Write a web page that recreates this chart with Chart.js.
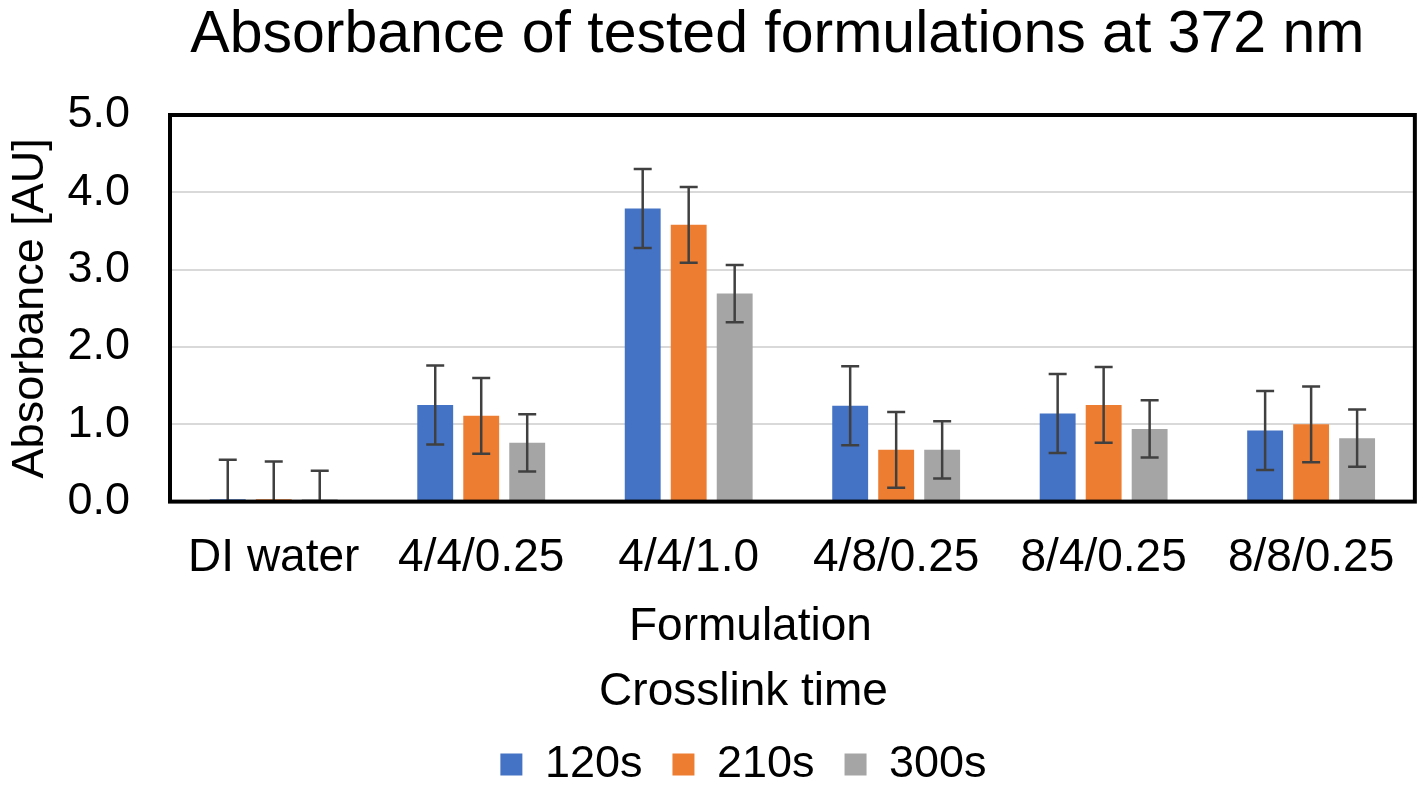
<!DOCTYPE html>
<html>
<head>
<meta charset="utf-8">
<script src="https://cdn.jsdelivr.net/npm/chart.js@4"></script>
<style>
  html, body { margin: 0; padding: 0; background: #fff; }
  #wrap { width: 1424px; height: 793px; position: relative; }
</style>
</head>
<body>
<div id="wrap"><canvas id="c"></canvas></div>
<script>
const chartTitle = 'Absorbance of tested formulations at 372 nm';
const xAxisTitle = 'Formulation';
const legendTitle = 'Crosslink time';
const yAxisTitle = 'Absorbance [AU]';
const categories = ['DI water', '4/4/0.25', '4/4/1.0', '4/8/0.25', '8/4/0.25', '8/8/0.25'];
const seriesNames = ['120s', '210s', '300s'];
const values120 = [0.03, 1.25, 3.79, 1.24, 1.14, 0.92];
const values210 = [0.03, 1.11, 3.58, 0.67, 1.25, 1.00];
const values300 = [0.03, 0.76, 2.69, 0.67, 0.94, 0.82];
const errors120 = [0.51, 0.51, 0.51, 0.51, 0.51, 0.51];
const errors210 = [0.49, 0.49, 0.49, 0.49, 0.49, 0.49];
const errors300 = [0.37, 0.37, 0.37, 0.37, 0.37, 0.37];
const yTicks = [0, 1, 2, 3, 4, 5];

const FONT = "'Liberation Sans', Arial, sans-serif";
const colors = ['#4472C4', '#ED7D31', '#A5A5A5'];
const errs = [errors120, errors210, errors300];

const errorBarPlugin = {
  id: 'errorBars',
  afterDatasetsDraw(chart) {
    const ctx = chart.ctx;
    const y = chart.scales.y;
    const a = chart.chartArea;
    ctx.save();
    ctx.beginPath();
    ctx.rect(a.left, a.top, a.right - a.left, a.bottom - a.top);
    ctx.clip();
    ctx.strokeStyle = '#404040';
    ctx.lineWidth = 2.5;
    chart.data.datasets.forEach((ds, di) => {
      const meta = chart.getDatasetMeta(di);
      meta.data.forEach((bar, i) => {
        const v = ds.data[i];
        const e = errs[di][i];
        const yt = y.getPixelForValue(v + e);
        const yb = y.getPixelForValue(Math.max(v - e, 0));
        const x = bar.x;
        const cap = 9;
        ctx.beginPath();
        ctx.moveTo(x, yt); ctx.lineTo(x, yb);
        ctx.moveTo(x - cap, yt); ctx.lineTo(x + cap, yt);
        ctx.moveTo(x - cap, yb); ctx.lineTo(x + cap, yb);
        ctx.stroke();
      });
    });
    ctx.restore();
  }
};

const LEGEND_SHIFT = 36;
const framePlugin = {
  id: 'frame',
  afterLayout(chart) {
    if (chart.legend) {
      chart.legend.left += LEGEND_SHIFT;
      chart.legend.right += LEGEND_SHIFT;
    }
  },
  afterDraw(chart) {
    const ctx = chart.ctx;
    const a = chart.chartArea;
    ctx.save();
    ctx.strokeStyle = '#000';
    ctx.lineWidth = 4;
    ctx.strokeRect(a.left, a.top, a.right - a.left, a.bottom - a.top);
    ctx.fillStyle = '#000';
    ctx.textAlign = 'center';
    ctx.textBaseline = 'middle';
    ctx.font = '59px ' + FONT;
    ctx.fillText(chartTitle, (a.left + a.right) / 2 - 15, 36);
    ctx.font = '46px ' + FONT;
    ctx.fillText(xAxisTitle, (a.left + a.right) / 2 - 42, a.bottom + 126);
    ctx.restore();
  }
};

new Chart(document.getElementById('c'), {
  type: 'bar',
  data: {
    labels: categories,
    datasets: [
      { label: seriesNames[0], data: values120, backgroundColor: colors[0] },
      { label: seriesNames[1], data: values210, backgroundColor: colors[1] },
      { label: seriesNames[2], data: values300, backgroundColor: colors[2] }
    ]
  },
  options: {
    responsive: true,
    maintainAspectRatio: false,
    animation: false,
    devicePixelRatio: 1,
    layout: { padding: { top: 115, left: 0, right: 9, bottom: -4 } },
    datasets: { bar: { categoryPercentage: 0.665, barPercentage: 0.78, borderWidth: 0 } },
    scales: {
      x: {
        grid: { display: false, drawTicks: false },
        border: { display: false },
        ticks: { color: '#000', font: { family: FONT, size: 46 }, padding: 29, maxRotation: 0 },
        title: { display: false }
      },
      y: {
        min: 0, max: 5,
        afterBuildTicks(axis) { axis.ticks = yTicks.map(v => ({ value: v })); },
        afterFit(axis) { axis.width = 170; },
        grid: { color: '#D9D9D9', lineWidth: 2, drawTicks: false },
        border: { display: false },
        ticks: { color: '#000', font: { family: FONT, size: 45 }, padding: 40, callback: v => Number(v).toFixed(1) },
        title: { display: true, text: yAxisTitle, color: '#000', font: { family: FONT, size: 45 }, padding: 4 }
      }
    },
    plugins: {
      legend: {
        position: 'bottom',
        title: { display: true, text: legendTitle, color: '#000', font: { family: FONT, size: 46 }, padding: { top: 55, bottom: -13 } },
        labels: { color: '#000', font: { family: FONT, size: 45 }, boxWidth: 22, boxHeight: 22, padding: 30 }
      },
      tooltip: { enabled: false }
    }
  },
  plugins: [errorBarPlugin, framePlugin]
});
</script>
</body>
</html>
